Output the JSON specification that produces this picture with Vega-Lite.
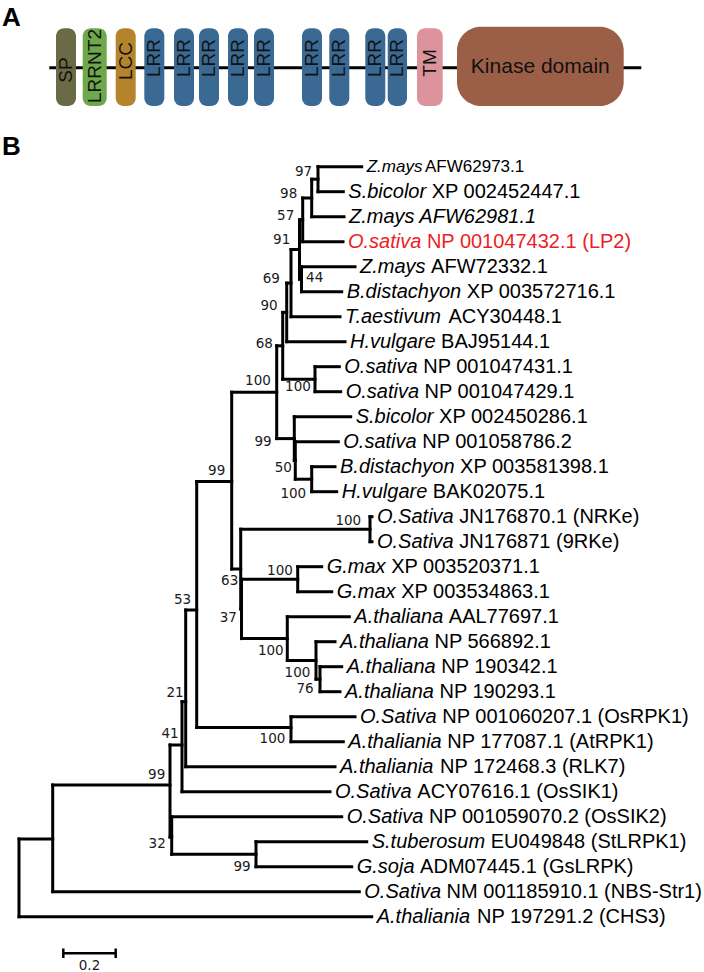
{
  "$schema": "https://vega.github.io/schema/vega-lite/v6.json",
  "width": 704,
  "height": 972,
  "padding": 0,
  "autosize": {"type": "none"},
  "background": "white",
  "config": {"view": {"stroke": null}},
  "datasets": {
    "backbone": [{"x": 49.3, "x2": 641.3, "y": 67.7}],
    "domains": [
      {"name": "SP", "x0": 56, "x1": 76, "xc": 66, "y0": 28.3, "y1": 106, "ly": 70},
      {"name": "LRRNT2", "x0": 82.7, "x1": 106.7, "xc": 94.7, "y0": 28.3, "y1": 106, "ly": 66},
      {"name": "LCC", "x0": 115.7, "x1": 135.7, "xc": 125.7, "y0": 28.3, "y1": 106, "ly": 61},
      {"name": "LRR", "x0": 144.3, "x1": 164.3, "xc": 154.3, "y0": 28.3, "y1": 106, "ly": 58},
      {"name": "LRR", "x0": 174, "x1": 194, "xc": 184, "y0": 28.3, "y1": 106, "ly": 58},
      {"name": "LRR", "x0": 199, "x1": 219, "xc": 209, "y0": 28.3, "y1": 106, "ly": 58},
      {"name": "LRR", "x0": 228, "x1": 248, "xc": 238, "y0": 28.3, "y1": 106, "ly": 58},
      {"name": "LRR", "x0": 254, "x1": 274, "xc": 264, "y0": 28.3, "y1": 106, "ly": 58},
      {"name": "LRR", "x0": 302, "x1": 322, "xc": 312, "y0": 28.3, "y1": 106, "ly": 58},
      {"name": "LRR", "x0": 329.3, "x1": 349.3, "xc": 339.3, "y0": 28.3, "y1": 106, "ly": 58},
      {"name": "LRR", "x0": 365.3, "x1": 385.3, "xc": 375.3, "y0": 28.3, "y1": 106, "ly": 58},
      {"name": "LRR", "x0": 387.7, "x1": 407, "xc": 397.3, "y0": 28.3, "y1": 106, "ly": 58},
      {"name": "TM", "x0": 417, "x1": 442.7, "xc": 429.8, "y0": 28.3, "y1": 106, "ly": 63},
      {"name": "Kinase domain", "x0": 457, "x1": 623.7, "xc": 540.3, "y0": 26.7, "y1": 106, "ly": 66.7}
    ],
    "panels": [
      {"t": "A", "x": 2, "y": 5},
      {"t": "B", "x": 2, "y": 134}
    ],
    "nodes": [
      {"id": "n97", "x": 318, "y": 179.2, "px": 311.7, "ylo": 166.7, "yhi": 191.7, "bs": "97", "lx": 303.5, "ly": 171.5},
      {"id": "n98", "x": 311.7, "y": 198, "px": 302.7, "ylo": 179.2, "yhi": 216.7, "bs": "98", "lx": 288.7, "ly": 193.8},
      {"id": "n57", "x": 302.7, "y": 219.8, "px": 299.5, "ylo": 198, "yhi": 241.7, "bs": "57", "lx": 285.7, "ly": 215.8},
      {"id": "n44", "x": 301.5, "y": 279.2, "px": 299.5, "ylo": 266.7, "yhi": 291.7, "bs": "44", "lx": 314.7, "ly": 278.3},
      {"id": "n91", "x": 299.5, "y": 249.5, "px": 291, "ylo": 219.8, "yhi": 279.2, "bs": "91", "lx": 281.7, "ly": 240},
      {"id": "n69", "x": 291, "y": 283.1, "px": 286.7, "ylo": 249.5, "yhi": 316.7, "bs": "69", "lx": 271.3, "ly": 279.2},
      {"id": "n90", "x": 286.7, "y": 312.4, "px": 282.7, "ylo": 283.1, "yhi": 341.7, "bs": "90", "lx": 269, "ly": 305.8},
      {"id": "n100a", "x": 315, "y": 379.2, "px": 282.7, "ylo": 366.7, "yhi": 391.7, "bs": "100", "lx": 298, "ly": 387},
      {"id": "n68", "x": 282.7, "y": 345.8, "px": 276.7, "ylo": 312.4, "yhi": 379.2, "bs": "68", "lx": 264.3, "ly": 344},
      {"id": "n100b", "x": 311.7, "y": 479.2, "px": 295.3, "ylo": 466.7, "yhi": 491.7, "bs": "100", "lx": 293.3, "ly": 494},
      {"id": "n50", "x": 295.3, "y": 460.4, "px": 294.3, "ylo": 441.7, "yhi": 479.2, "bs": "50", "lx": 283.3, "ly": 468},
      {"id": "n99b", "x": 294.3, "y": 438.6, "px": 276.7, "ylo": 416.7, "yhi": 460.4, "bs": "99", "lx": 263, "ly": 441.7},
      {"id": "n100c", "x": 276.7, "y": 392.2, "px": 231.7, "ylo": 345.8, "yhi": 438.6, "bs": "100", "lx": 258, "ly": 381},
      {"id": "n100d", "x": 370, "y": 529.2, "px": 240.7, "ylo": 516.7, "yhi": 541.7, "bs": "100", "lx": 348.3, "ly": 520.7},
      {"id": "n100e", "x": 297.7, "y": 579.2, "px": 241.5, "ylo": 566.7, "yhi": 591.7, "bs": "100", "lx": 280, "ly": 570.8},
      {"id": "n76", "x": 320, "y": 679.2, "px": 316, "ylo": 666.7, "yhi": 691.7, "bs": "76", "lx": 305, "ly": 689.3},
      {"id": "n100f", "x": 316, "y": 660.4, "px": 287.3, "ylo": 641.7, "yhi": 679.2, "bs": "100", "lx": 297.5, "ly": 672.6},
      {"id": "n100g", "x": 287.3, "y": 638.6, "px": 241.5, "ylo": 616.7, "yhi": 660.4, "bs": "100", "lx": 270.8, "ly": 650.8},
      {"id": "n37", "x": 241.5, "y": 608.9, "px": 240.7, "ylo": 579.2, "yhi": 638.6, "bs": "37", "lx": 228.3, "ly": 618.3},
      {"id": "n63", "x": 240.7, "y": 569, "px": 231.7, "ylo": 529.2, "yhi": 608.9, "bs": "63", "lx": 229.7, "ly": 580.8},
      {"id": "n99a", "x": 231.7, "y": 481.5, "px": 196.7, "ylo": 392.2, "yhi": 569, "bs": "99", "lx": 216.7, "ly": 471},
      {"id": "n100h", "x": 291, "y": 727.5, "px": 196.7, "ylo": 716.7, "yhi": 741.7, "bs": "100", "lx": 272.5, "ly": 739},
      {"id": "n53", "x": 196.7, "y": 610, "px": 185.7, "ylo": 481.5, "yhi": 727.5, "bs": "53", "lx": 182.5, "ly": 600},
      {"id": "n21", "x": 185.7, "y": 701.7, "px": 182, "ylo": 610, "yhi": 766.7, "bs": "21", "lx": 175, "ly": 692.5},
      {"id": "n41", "x": 182, "y": 745, "px": 170, "ylo": 701.7, "yhi": 791.7, "bs": "41", "lx": 170, "ly": 734},
      {"id": "n99c", "x": 256, "y": 854.2, "px": 171.7, "ylo": 841.7, "yhi": 866.7, "bs": "99", "lx": 242, "ly": 867.3},
      {"id": "n32", "x": 171.7, "y": 837, "px": 170, "ylo": 816.7, "yhi": 854.2, "bs": "32", "lx": 157.2, "ly": 844},
      {"id": "n99d", "x": 170, "y": 785, "px": 52.7, "ylo": 745, "yhi": 837, "bs": "99", "lx": 156.7, "ly": 775},
      {"id": "n52", "x": 52.7, "y": 839, "px": 19, "ylo": 785, "yhi": 891.7, "bs": "", "lx": null, "ly": null},
      {"id": "root", "x": 19, "y": 877.9, "px": null, "ylo": 839, "yhi": 916.7, "bs": "", "lx": null, "ly": null}
    ],
    "leaves": [
      {"n": 1, "sp": "Z.mays", "acc": "AFW62973.1", "y": 166.7, "px": 318, "tip": 361.7, "ax": 425},
      {"n": 2, "sp": "S.bicolor", "acc": "XP 002452447.1", "y": 191.7, "px": 318, "tip": 343.3, "ax": 431.7},
      {"n": 3, "sp": "Z.mays AFW62981.1", "acc": "", "y": 216.7, "px": 311.7, "tip": 344, "ax": 450},
      {"n": 4, "sp": "O.sativa", "acc": "NP 001047432.1 (LP2)", "y": 241.7, "px": 302.7, "tip": 343, "ax": 426.9},
      {"n": 5, "sp": "Z.mays", "acc": "AFW72332.1", "y": 266.7, "px": 301.5, "tip": 355, "ax": 431.1},
      {"n": 6, "sp": "B.distachyon", "acc": "XP 003572716.1", "y": 291.7, "px": 301.5, "tip": 341.7, "ax": 466.8},
      {"n": 7, "sp": "T.aestivum", "acc": "ACY30448.1", "y": 316.7, "px": 291, "tip": 340, "ax": 448.4},
      {"n": 8, "sp": "H.vulgare", "acc": "BAJ95144.1", "y": 341.7, "px": 286.7, "tip": 345, "ax": 441.1},
      {"n": 9, "sp": "O.sativa", "acc": "NP 001047431.1", "y": 366.7, "px": 315, "tip": 339.3, "ax": 423.2},
      {"n": 10, "sp": "O.sativa", "acc": "NP 001047429.1", "y": 391.7, "px": 315, "tip": 340.7, "ax": 424.6},
      {"n": 11, "sp": "S.bicolor", "acc": "XP 002450286.1", "y": 416.7, "px": 294.3, "tip": 350.7, "ax": 439.1},
      {"n": 12, "sp": "O.sativa", "acc": "NP 001058786.2", "y": 441.7, "px": 295.3, "tip": 338.3, "ax": 422.2},
      {"n": 13, "sp": "B.distachyon", "acc": "XP 003581398.1", "y": 466.7, "px": 311.7, "tip": 335, "ax": 460.1},
      {"n": 14, "sp": "H.vulgare", "acc": "BAK02075.1", "y": 491.7, "px": 311.7, "tip": 336.7, "ax": 432.8},
      {"n": 15, "sp": "O.Sativa", "acc": "JN176870.1 (NRKe)", "y": 516.7, "px": 370, "tip": 372, "ax": 459.3},
      {"n": 16, "sp": "O.Sativa", "acc": "JN176871 (9RKe)", "y": 541.7, "px": 370, "tip": 372, "ax": 459.3},
      {"n": 17, "sp": "G.max", "acc": "XP 003520371.1", "y": 566.7, "px": 297.7, "tip": 321.7, "ax": 391.2},
      {"n": 18, "sp": "G.max", "acc": "XP 003534863.1", "y": 591.7, "px": 297.7, "tip": 331.7, "ax": 401.2},
      {"n": 19, "sp": "A.thaliana", "acc": "AAL77697.1", "y": 616.7, "px": 287.3, "tip": 349.3, "ax": 448.8},
      {"n": 20, "sp": "A.thaliana", "acc": "NP 566892.1", "y": 641.7, "px": 316, "tip": 335, "ax": 434.5},
      {"n": 21, "sp": "A.thaliana", "acc": "NP 190342.1", "y": 666.7, "px": 320, "tip": 341.7, "ax": 441.2},
      {"n": 22, "sp": "A.thaliana", "acc": "NP 190293.1", "y": 691.7, "px": 320, "tip": 340, "ax": 439.5},
      {"n": 23, "sp": "O.Sativa", "acc": "NP 001060207.1 (OsRPK1)", "y": 716.7, "px": 291, "tip": 355, "ax": 442.3},
      {"n": 24, "sp": "A.thaliania", "acc": "NP 177087.1 (AtRPK1)", "y": 741.7, "px": 291, "tip": 343.3, "ax": 447.2},
      {"n": 25, "sp": "A.thaliania", "acc": "NP 172468.3 (RLK7)", "y": 766.7, "px": 185.7, "tip": 335, "ax": 440},
      {"n": 26, "sp": "O.Sativa", "acc": "ACY07616.1 (OsSIK1)", "y": 791.7, "px": 182, "tip": 330, "ax": 417.3},
      {"n": 27, "sp": "O.Sativa", "acc": "NP 001059070.2 (OsSIK2)", "y": 816.7, "px": 171.7, "tip": 341.7, "ax": 429},
      {"n": 28, "sp": "S.tuberosum", "acc": "EU049848 (StLRPK1)", "y": 841.7, "px": 256, "tip": 366.7, "ax": 490.7},
      {"n": 29, "sp": "G.soja", "acc": "ADM07445.1 (GsLRPK)", "y": 866.7, "px": 256, "tip": 351.7, "ax": 420.1},
      {"n": 30, "sp": "O.Sativa", "acc": "NM 001185910.1 (NBS-Str1)", "y": 891.7, "px": 52.7, "tip": 359.3, "ax": 446.6},
      {"n": 31, "sp": "A.thaliania", "acc": "NP 197291.2 (CHS3)", "y": 916.7, "px": 19, "tip": 371.7, "ax": 477}
    ],
    "scalebar": [{"x": 63.3, "x2": 115.7, "y": 953.3, "ylo": 948.5, "yhi": 958, "xm": 89.5, "ty": 966, "label": "0.2"}]
  },
  "layer": [
    {
      "data": {"name": "backbone"},
      "mark": {"type": "rule", "strokeWidth": 3, "color": "#000000"},
      "encoding": {
        "x": {"field": "x", "type": "quantitative", "scale": {"domain": [0, 704], "nice": false, "zero": false}, "axis": null},
        "x2": {"field": "x2"},
        "y": {"field": "y", "type": "quantitative", "scale": {"domain": [0, 972], "nice": false, "zero": false, "reverse": true}, "axis": null}
      }
    },
    {
      "data": {"name": "domains"},
      "transform": [{"filter": "datum.name !== 'Kinase domain'"}],
      "mark": {"type": "rect", "cornerRadius": 8},
      "encoding": {
        "x": {"field": "x0", "type": "quantitative", "scale": {"domain": [0, 704], "nice": false, "zero": false}, "axis": null},
        "x2": {"field": "x1"},
        "y": {"field": "y0", "type": "quantitative", "scale": {"domain": [0, 972], "nice": false, "zero": false, "reverse": true}, "axis": null},
        "y2": {"field": "y1"},
        "color": {"field": "name", "type": "nominal", "legend": null,
          "scale": {"domain": ["SP", "LRRNT2", "LCC", "LRR", "TM", "Kinase domain"],
                    "range": ["#6b6a46", "#6ea84b", "#b6832d", "#3a6a94", "#dd939b", "#9b5e47"]}}
      }
    },
    {
      "data": {"name": "domains"},
      "transform": [{"filter": "datum.name === 'Kinase domain'"}],
      "mark": {"type": "rect", "cornerRadius": 24},
      "encoding": {
        "x": {"field": "x0", "type": "quantitative", "scale": {"domain": [0, 704], "nice": false, "zero": false}, "axis": null},
        "x2": {"field": "x1"},
        "y": {"field": "y0", "type": "quantitative", "scale": {"domain": [0, 972], "nice": false, "zero": false, "reverse": true}, "axis": null},
        "y2": {"field": "y1"},
        "color": {"field": "name", "type": "nominal", "legend": null,
          "scale": {"domain": ["SP", "LRRNT2", "LCC", "LRR", "TM", "Kinase domain"],
                    "range": ["#6b6a46", "#6ea84b", "#b6832d", "#3a6a94", "#dd939b", "#9b5e47"]}}
      }
    },
    {
      "data": {"name": "domains"},
      "transform": [{"filter": "datum.name !== 'Kinase domain'"}],
      "mark": {"type": "text", "angle": 270, "align": "center", "baseline": "middle", "font": "Liberation Sans", "fontSize": 19, "color": "#111111"},
      "encoding": {
        "x": {"field": "xc", "type": "quantitative", "scale": {"domain": [0, 704], "nice": false, "zero": false}, "axis": null},
        "y": {"field": "ly", "type": "quantitative", "scale": {"domain": [0, 972], "nice": false, "zero": false, "reverse": true}, "axis": null},
        "text": {"field": "name"}
      }
    },
    {
      "data": {"name": "domains"},
      "transform": [{"filter": "datum.name === 'Kinase domain'"}],
      "mark": {"type": "text", "align": "center", "baseline": "middle", "font": "Liberation Sans", "fontSize": 21, "color": "#111111"},
      "encoding": {
        "x": {"field": "xc", "type": "quantitative", "scale": {"domain": [0, 704], "nice": false, "zero": false}, "axis": null},
        "y": {"field": "ly", "type": "quantitative", "scale": {"domain": [0, 972], "nice": false, "zero": false, "reverse": true}, "axis": null},
        "text": {"field": "name"}
      }
    },
    {
      "data": {"name": "panels"},
      "mark": {"type": "text", "align": "left", "baseline": "top", "font": "Liberation Sans", "fontSize": 26, "fontWeight": "bold", "color": "#000000"},
      "encoding": {
        "x": {"field": "x", "type": "quantitative", "scale": {"domain": [0, 704], "nice": false, "zero": false}, "axis": null},
        "y": {"field": "y", "type": "quantitative", "scale": {"domain": [0, 972], "nice": false, "zero": false, "reverse": true}, "axis": null},
        "text": {"field": "t"}
      }
    },
    {
      "data": {"name": "nodes"},
      "transform": [{"filter": "datum.px != null"}],
      "mark": {"type": "rule", "strokeWidth": 3, "strokeCap": "square", "color": "#000000"},
      "encoding": {
        "x": {"field": "px", "type": "quantitative", "scale": {"domain": [0, 704], "nice": false, "zero": false}, "axis": null},
        "x2": {"field": "x"},
        "y": {"field": "y", "type": "quantitative", "scale": {"domain": [0, 972], "nice": false, "zero": false, "reverse": true}, "axis": null}
      }
    },
    {
      "data": {"name": "nodes"},
      "mark": {"type": "rule", "strokeWidth": 3, "strokeCap": "square", "color": "#000000"},
      "encoding": {
        "x": {"field": "x", "type": "quantitative", "scale": {"domain": [0, 704], "nice": false, "zero": false}, "axis": null},
        "y": {"field": "ylo", "type": "quantitative", "scale": {"domain": [0, 972], "nice": false, "zero": false, "reverse": true}, "axis": null},
        "y2": {"field": "yhi"}
      }
    },
    {
      "data": {"name": "leaves"},
      "mark": {"type": "rule", "strokeWidth": 3, "strokeCap": "square", "color": "#000000"},
      "encoding": {
        "x": {"field": "px", "type": "quantitative", "scale": {"domain": [0, 704], "nice": false, "zero": false}, "axis": null},
        "x2": {"field": "tip"},
        "y": {"field": "y", "type": "quantitative", "scale": {"domain": [0, 972], "nice": false, "zero": false, "reverse": true}, "axis": null}
      }
    },
    {
      "data": {"name": "leaves"},
      "mark": {"type": "text", "align": "left", "baseline": "middle", "dx": 5, "font": "Liberation Sans", "fontStyle": "italic"},
      "encoding": {
        "x": {"field": "tip", "type": "quantitative", "scale": {"domain": [0, 704], "nice": false, "zero": false}, "axis": null},
        "y": {"field": "y", "type": "quantitative", "scale": {"domain": [0, 972], "nice": false, "zero": false, "reverse": true}, "axis": null},
        "text": {"field": "sp"},
        "size": {"condition": {"test": "datum.n === 1", "value": 17}, "value": 20},
        "color": {"condition": {"test": "datum.n === 4", "value": "#ee1d24"}, "value": "#000000"}
      }
    },
    {
      "data": {"name": "leaves"},
      "transform": [{"filter": "datum.acc !== ''"}],
      "mark": {"type": "text", "align": "left", "baseline": "middle", "font": "Liberation Sans"},
      "encoding": {
        "x": {"field": "ax", "type": "quantitative", "scale": {"domain": [0, 704], "nice": false, "zero": false}, "axis": null},
        "y": {"field": "y", "type": "quantitative", "scale": {"domain": [0, 972], "nice": false, "zero": false, "reverse": true}, "axis": null},
        "text": {"field": "acc"},
        "size": {"condition": {"test": "datum.n === 1", "value": 17}, "value": 20},
        "color": {"condition": {"test": "datum.n === 4", "value": "#ee1d24"}, "value": "#000000"}
      }
    },
    {
      "data": {"name": "nodes"},
      "transform": [{"filter": "datum.bs !== ''"}],
      "mark": {"type": "text", "align": "center", "baseline": "middle", "font": "DejaVu Sans", "fontSize": 13.5, "color": "#1a1a1a"},
      "encoding": {
        "x": {"field": "lx", "type": "quantitative", "scale": {"domain": [0, 704], "nice": false, "zero": false}, "axis": null},
        "y": {"field": "ly", "type": "quantitative", "scale": {"domain": [0, 972], "nice": false, "zero": false, "reverse": true}, "axis": null},
        "text": {"field": "bs"}
      }
    },
    {
      "data": {"name": "scalebar"},
      "mark": {"type": "rule", "strokeWidth": 2.5, "color": "#000000"},
      "encoding": {
        "x": {"field": "x", "type": "quantitative", "scale": {"domain": [0, 704], "nice": false, "zero": false}, "axis": null},
        "x2": {"field": "x2"},
        "y": {"field": "y", "type": "quantitative", "scale": {"domain": [0, 972], "nice": false, "zero": false, "reverse": true}, "axis": null}
      }
    },
    {
      "data": {"name": "scalebar"},
      "mark": {"type": "rule", "strokeWidth": 2.5, "color": "#000000"},
      "encoding": {
        "x": {"field": "x", "type": "quantitative", "scale": {"domain": [0, 704], "nice": false, "zero": false}, "axis": null},
        "y": {"field": "ylo", "type": "quantitative", "scale": {"domain": [0, 972], "nice": false, "zero": false, "reverse": true}, "axis": null},
        "y2": {"field": "yhi"}
      }
    },
    {
      "data": {"name": "scalebar"},
      "mark": {"type": "rule", "strokeWidth": 2.5, "color": "#000000"},
      "encoding": {
        "x": {"field": "x2", "type": "quantitative", "scale": {"domain": [0, 704], "nice": false, "zero": false}, "axis": null},
        "y": {"field": "ylo", "type": "quantitative", "scale": {"domain": [0, 972], "nice": false, "zero": false, "reverse": true}, "axis": null},
        "y2": {"field": "yhi"}
      }
    },
    {
      "data": {"name": "scalebar"},
      "mark": {"type": "text", "align": "center", "baseline": "middle", "font": "DejaVu Sans", "fontSize": 13.5, "color": "#1a1a1a"},
      "encoding": {
        "x": {"field": "xm", "type": "quantitative", "scale": {"domain": [0, 704], "nice": false, "zero": false}, "axis": null},
        "y": {"field": "ty", "type": "quantitative", "scale": {"domain": [0, 972], "nice": false, "zero": false, "reverse": true}, "axis": null},
        "text": {"field": "label"}
      }
    }
  ]
}
